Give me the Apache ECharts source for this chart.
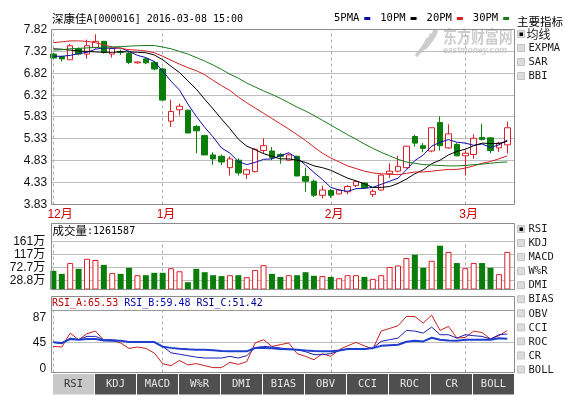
<!DOCTYPE html>
<html><head><meta charset="utf-8">
<script src="https://cdn.jsdelivr.net/npm/echarts@6/dist/echarts.min.js"></script>
<style>html,body{margin:0;padding:0;background:#fff}#c{width:570px;height:396px}</style>
</head><body><div id="c"></div>
<script>
const dates = ['2015-12-15','2015-12-16','2015-12-17','2015-12-18','2015-12-21','2015-12-22','2015-12-23','2015-12-24','2015-12-25','2015-12-28','2015-12-29','2015-12-30','2015-12-31',
'2016-01-04','2016-01-05','2016-01-06','2016-01-07','2016-01-08','2016-01-11','2016-01-12','2016-01-13','2016-01-14','2016-01-15','2016-01-18','2016-01-19','2016-01-20','2016-01-21','2016-01-22','2016-01-25','2016-01-26','2016-01-27','2016-01-28','2016-01-29',
'2016-02-01','2016-02-02','2016-02-03','2016-02-04','2016-02-05','2016-02-15','2016-02-16','2016-02-17','2016-02-18','2016-02-19','2016-02-22','2016-02-23','2016-02-24','2016-02-25','2016-02-26','2016-02-29',
'2016-03-01','2016-03-02','2016-03-03','2016-03-04','2016-03-07','2016-03-08'];
const opens = [7.26,7.20,7.13,7.38,7.26,7.41,7.55,7.26,7.32,7.27,7.06,7.15,7.07,
6.92,5.73,5.99,5.98,5.61,5.40,4.96,4.93,4.67,4.84,4.52,4.58,5.06,5.05,4.97,4.84,4.93,4.47,4.36,4.04,
4.15,4.07,4.12,4.26,4.32,4.06,4.16,4.53,4.59,4.67,5.38,5.17,5.05,5.70,5.12,5.20,
4.94,4.97,5.36,5.35,5.12,5.19];
const closes = [7.17,7.15,7.45,7.26,7.45,7.55,7.30,7.39,7.30,7.07,7.08,7.06,6.92,
6.21,5.95,6.07,5.46,5.51,4.96,4.87,4.80,4.87,4.55,4.62,5.09,5.17,4.90,4.93,4.96,4.48,4.36,4.04,4.16,
4.04,4.16,4.24,4.35,4.21,4.13,4.50,4.59,4.70,5.16,5.23,5.11,5.58,5.17,5.44,4.94,
5.00,5.34,5.31,5.06,5.23,5.58];
const lows = [7.15,7.09,7.13,7.23,7.15,7.38,7.27,7.18,7.24,7.03,7.04,7.03,6.89,
6.21,5.60,5.86,5.46,5.00,4.96,4.73,4.73,4.49,4.49,4.41,4.56,4.99,4.84,4.76,4.82,4.48,4.12,4.00,3.97,
3.98,4.06,4.06,4.23,4.19,4.00,4.15,4.44,4.56,4.65,5.15,5.02,5.02,5.06,5.10,4.93,
4.49,4.87,5.29,5.00,5.03,4.99];
const highs = [7.27,7.21,7.49,7.41,7.59,7.71,7.56,7.41,7.36,7.30,7.09,7.17,7.10,
6.95,6.22,6.13,5.99,5.64,5.42,5.02,4.97,4.93,4.88,4.65,5.11,5.34,5.14,5.00,4.99,4.94,4.67,4.40,4.26,
4.18,4.18,4.27,4.38,4.33,4.18,4.51,4.77,4.94,5.17,5.42,5.23,5.58,5.84,5.66,5.23,
5.06,5.43,5.67,5.37,5.26,5.72];
const volumes = [62.6,52.5,88.7,69.4,103,99,82.6,55,52.5,72.8,48,48,56,
56,71.4,61.2,24.5,69.4,58,48,45,48,48,41.3,65.3,81.6,52.5,42.3,48,48,58,46,45,
42.3,37.7,48,48,42.3,35.7,48,75.5,80.6,105.6,116.8,72.8,96.5,146.9,126,88.7,
71.4,88.7,88.7,72.8,51.5,126.16];
const ma5 = [7.21,7.21,7.23,7.27,7.30,7.37,7.40,7.39,7.40,7.32,7.23,7.18,7.09,
6.87,6.64,6.44,6.12,5.84,5.59,5.37,5.12,5.00,4.81,4.74,4.79,4.86,4.87,4.94,5.01,4.89,4.73,4.56,4.40,
4.22,4.16,4.13,4.19,4.20,4.22,4.29,4.36,4.43,4.62,4.83,4.96,5.16,5.25,5.31,5.25,
5.23,5.18,5.21,5.13,5.19,5.30];
const ma10 = [7.38,7.37,7.35,7.33,7.32,7.31,7.30,7.30,7.31,7.31,7.30,7.29,7.24,
7.13,6.98,6.84,6.65,6.46,6.23,6.01,5.78,5.56,5.32,5.16,5.08,4.99,4.93,4.87,4.87,4.84,4.79,4.71,4.67,
4.61,4.52,4.43,4.37,4.30,4.22,4.22,4.24,4.31,4.41,4.53,4.62,4.76,4.84,4.96,5.04,
5.09,5.17,5.23,5.22,5.22,5.27];
const ma20 = [7.52,7.54,7.56,7.56,7.55,7.52,7.47,7.42,7.39,7.36,7.35,7.33,7.29,
7.21,7.12,7.03,6.95,6.88,6.79,6.66,6.54,6.43,6.28,6.15,6.03,5.91,5.79,5.67,5.55,5.42,5.29,5.14,5.00,
4.89,4.80,4.71,4.65,4.59,4.55,4.53,4.52,4.51,4.54,4.57,4.57,4.59,4.61,4.63,4.63,
4.66,4.71,4.77,4.81,4.87,4.94];
const ma30 = [7.35,7.36,7.38,7.39,7.40,7.41,7.42,7.42,7.43,7.44,7.45,7.455,7.455,
7.42,7.38,7.32,7.26,7.18,7.10,7.01,6.91,6.80,6.71,6.60,6.51,6.42,6.34,6.25,6.15,6.05,5.96,5.86,5.75,
5.64,5.53,5.42,5.32,5.21,5.11,5.02,4.94,4.86,4.80,4.77,4.74,4.73,4.72,4.71,4.71,
4.72,4.74,4.75,4.77,4.79,4.80];
const rsiA = [38,37,61,49.6,60,64.5,48.4,48.4,43.9,34.6,37,34.6,26.6,
8.3,4.8,14,6,8.3,4.8,1.4,1.4,10.5,7,11.7,44,49.6,38,41,44,25.5,20.8,15,25.5,
20.8,32.4,39,45,39,33.5,64.5,69,73.7,89.7,89.7,78.3,92,65.6,72.5,52.5,
53.5,64.5,62,50.8,56.5,65.53];
const rsiB = [45,42.7,52.4,49.6,55.3,55.3,49.6,49.6,47.8,45.6,45.6,45.6,45.6,
38,27,24.5,22,19.5,18,18,18,20.9,18,22,36,38,37,35.2,33.5,32.4,28.9,23.8,23.8,
25.5,30.7,33.5,34.7,33.5,35.2,46.7,49.6,52.4,65.6,64.5,61,71.4,58.2,58.2,52.4,
58.2,56.5,55.3,50.7,58.2,59.48];
const rsiC = [45,44,50.7,49.6,50.7,50.7,48.4,47.8,47.8,45.6,45.6,45.6,45.6,
37.5,35.5,34,33,32.4,32.4,31.5,30,29.5,29.5,29.5,35.2,35.2,35,33.5,33,32.4,31,30,29.5,
29.5,31,33.5,33.5,33.5,35.2,39,40,41,46,47.8,46.7,53,49.6,48.4,47.8,
49.6,49.6,49.6,49.6,52,51.42];
const priceTicks = [3.83,4.33,4.83,5.33,5.83,6.32,6.82,7.32,7.82];
const volTicks = [0,28.8,72.7,117,161];
const rsiTicks = [0,45,87];
const rsiGridTicks = [45];
const monthStarts = ['2015-12-15','2016-01-04','2016-02-01','2016-03-01'];
const maNames = ['5PMA','10PM','20PM','30PM'];
const mainOpts = ['均线','EXPMA','SAR','BBI'];
const tabNames = ['RSI','KDJ','MACD','W%R','DMI','BIAS','OBV','CCI','ROC','CR','BOLL'];

const UP='#dc1e28', DOWN='#0a7d0a';
const MA_COLORS=['#0c0ca8','#000000','#d42020','#1b7a1b'];
const MONO='"DejaVu Sans Mono", monospace';
const SANS='"Liberation Sans", Arial, "Noto Sans CJK SC", sans-serif';
const CJK='"Noto Sans CJK SC", sans-serif';
const gridL=49.2, gridW=462.3;
const GRIDC='#bebebe';

const chart = echarts.init(document.getElementById('c'), null, {renderer:'canvas', width:570, height:396});
const candleData = dates.map((d,i)=>[opens[i],closes[i],lows[i],highs[i]]);
const volData = volumes.map((v,i)=> closes[i]>=opens[i]
  ? {value:v, itemStyle:{color:'#fff', borderColor:UP, borderWidth:1}}
  : {value:v, itemStyle:{color:DOWN}});
const monthMark = {silent:true, symbol:['none','none'], label:{show:false},
  lineStyle:{color:'#ababab', type:[3,3], width:1},
  data: monthStarts.map(d=>({xAxis:d}))};
const axisLabelBase = {fontFamily:SANS, fontSize:12, color:'#111'};

const g = [];
function box(x,y,w,h){ g.push({type:'rect', z:10, shape:{x:x,y:y,width:w,height:h}, style:{fill:'none', stroke:'#8c8c8c', lineWidth:1}}); }
box(51.5,29.5,463,175);
box(51.5,223.5,463,66);
box(51.5,296.5,463,76);
g.push({type:'rect', z:10, shape:{x:52,y:310,width:462,height:1}, style:{fill:'#9a9a9a'}});
g.push({type:'text', z:11, x:52, y:19, style:{text:'{c|深康佳}{a|A[000016] 2016-03-08 15:00}', verticalAlign:'middle', fill:'#000',
  rich:{c:{fontFamily:CJK, fontSize:11.5, fill:'#000'}, a:{fontFamily:MONO, fontSize:10, fill:'#000'}}}});
g.push({type:'text', z:11, x:52.5, y:231, style:{text:'{c|成交量}{a|:1261587}', verticalAlign:'middle', fill:'#000',
  rich:{c:{fontFamily:CJK, fontSize:11.5, fill:'#000'}, a:{fontFamily:MONO, fontSize:10, fill:'#000'}}}});
g.push({type:'text', z:11, x:52, y:303.5, style:{text:'{r|RSI_A:65.53} {b|RSI_B:59.48} {k|RSI_C:51.42}', verticalAlign:'middle', fill:'#000', fontFamily:MONO, fontSize:10,
  rich:{r:{fontFamily:MONO, fontSize:10, fill:'#c00000'}, b:{fontFamily:MONO, fontSize:10, fill:'#0000c0'}, k:{fontFamily:MONO, fontSize:10, fill:'#000090'}}}});
g.push({type:'text', z:11, x:517, y:21.5, style:{text:'主要指标', verticalAlign:'middle', fill:'#000', fontFamily:CJK, fontSize:11.5}});
function checkItem(label, y, checked, cjk){
  g.push({type:'rect', z:11, shape:{x:517.5,y:y-4,width:7,height:7}, style:{fill:'#dcdcdc', stroke:'#c4c4c4', lineWidth:1}});
  if(checked) g.push({type:'rect', z:12, shape:{x:519.5,y:y-2,width:3.5,height:3.5}, style:{fill:'#000'}});
  g.push({type:'text', z:11, x: cjk?526.5:528.5, y:y, style:{text:label, verticalAlign:'middle', fill:'#1a1a1a', fontFamily: cjk?CJK:MONO, fontSize: cjk?12:10.5}});
}
mainOpts.forEach((t,k)=>checkItem(t, 34.5+14*k, k===0, k===0));
tabNames.forEach((t,k)=>checkItem(t, 229.5+14.05*k, k===0, false));
tabNames.forEach((t,k)=>{
  const x=53+42*k;
  g.push({type:'rect', z:11, shape:{x:x,y:374,width:41,height:20.5}, style:{fill: k===0?'#c8c8c8':'#4f4f4f'}});
  g.push({type:'text', z:12, x:x+20.5, y:384.5, style:{text:t, align:'center', verticalAlign:'middle', fill: k===0?'#333':'#e6e6e6', fontFamily:MONO, fontSize:10.5}});
});
g.push({type:'text', z:1, x:443, y:37, scaleX:0.82, style:{text:'东方财富网', verticalAlign:'middle', fill:'#cdcdcd', fontFamily:CJK, fontSize:17, fontWeight:'bold'}});
g.push({type:'text', z:1, x:443, y:50.5, style:{text:'eastmoney.com', verticalAlign:'middle', fill:'#cdcdcd', fontFamily:SANS, fontSize:8.5, fontWeight:'bold', fontStyle:'italic'}});
[[436,30,5],[432,34,4],[428,38,3.5]].forEach(([cx,cy,w])=>{
  g.push({type:'bezierCurve', z:1, shape:{x1:cx,y1:cy,x2:cx-12,y2:cy+18,cpx1:cx-3,cpy1:cy+8}, style:{stroke:'#cdcdcd', lineWidth:w, fill:'none'}});
});

const xCat = (gi, labels)=>({type:'category', gridIndex:gi, data:dates, boundaryGap:true,
  axisLine:{show:false}, axisTick:{show:false}, splitLine:{show:false},
  axisLabel: labels ? {show:true, interval:(idx,val)=>monthStarts.includes(val), formatter:val=>(+val.slice(5,7))+'月',
    color:'#cc0000', fontFamily:SANS, fontSize:12, align:'left', padding:[0,0,0,-6], margin:4} : {show:false}});
const yVal = (gi, min, max, labelVals, fmt, margin)=>({type:'value', gridIndex:gi, min:min, max:max,
  axisLine:{show:false}, axisTick:{show:false}, splitLine:{show:false},
  axisLabel:Object.assign({customValues:labelVals, formatter:fmt, margin:margin}, axisLabelBase)});

const option = {
  animation:false,
  textStyle:{fontFamily:SANS},
  graphic:{elements:g},
  legend:{data:maNames, left:334, top:13, itemWidth:6, itemHeight:3, itemGap:10, align:'right', icon:'rect', selectedMode:false, padding:0,
    textStyle:{fontFamily:MONO, fontSize:10.5, color:'#000'}},
  grid:[
    {left:gridL, width:gridW, top:29.5, height:175},
    {left:gridL, width:gridW, top:241.5, height:48},
    {left:gridL, width:gridW, top:310.5, height:62}
  ],
  xAxis:[xCat(0,true), xCat(1,false), xCat(2,false)],
  yAxis:[
    yVal(0, 3.83, 7.82, priceTicks, v=>v.toFixed(2), 2),
    yVal(1, 0, 161, volTicks, v=> v===0?'0':(v+'万'), 4),
    yVal(2, -7, 100, rsiTicks, v=>String(v), 3)
  ],
  series:[
    {type:'candlestick', name:'K', xAxisIndex:0, yAxisIndex:0, data:candleData, barWidth:6, z:6,
      itemStyle:{color:'#fff', color0:DOWN, borderColor:UP, borderColor0:DOWN, borderWidth:1},
      markLine:monthMark},
    ...[ma5,ma10,ma20,ma30].map((arr,k)=>({type:'line', name:maNames[k], xAxisIndex:0, yAxisIndex:0, data:arr, symbol:'none', smooth:false,
      lineStyle:{color:MA_COLORS[k], width:1}, itemStyle:{color:MA_COLORS[k]}, z:7})),
    {type:'bar', name:'VOL', xAxisIndex:1, yAxisIndex:1, data:volData, barWidth:6, z:6, markLine:monthMark},
    {type:'line', name:'RSI_A', xAxisIndex:2, yAxisIndex:2, data:rsiA, symbol:'none', z:6, lineStyle:{color:'#c81e1e', width:1}, markLine:monthMark},
    {type:'line', name:'RSI_B', xAxisIndex:2, yAxisIndex:2, data:rsiB, symbol:'none', z:6, lineStyle:{color:'#1c1cb4', width:1}},
    {type:'line', name:'RSI_C', xAxisIndex:2, yAxisIndex:2, data:rsiC, symbol:'none', z:6, lineStyle:{color:'#1f3fcf', width:2}}
  ]
};
chart.setOption(option);

// horizontal grid lines placed through the library's own y scales
function addGridLines(axisIndex, vals){
  vals.forEach(v=>{
    let py = chart.convertToPixel({yAxisIndex:axisIndex}, v);
    if (Array.isArray(py)) py = py[1];
    if (py == null || isNaN(py)) return;
    const y = Math.round(py - 0.5);
    g.push({type:'rect', z:1, shape:{x:52, y:y, width:462, height:1}, style:{fill:GRIDC}});
  });
}
addGridLines(0, priceTicks.slice(1,-1));
addGridLines(1, volTicks.slice(1));
addGridLines(2, rsiGridTicks);
chart.setOption({graphic:{elements:g}});
</script>
</body></html>
